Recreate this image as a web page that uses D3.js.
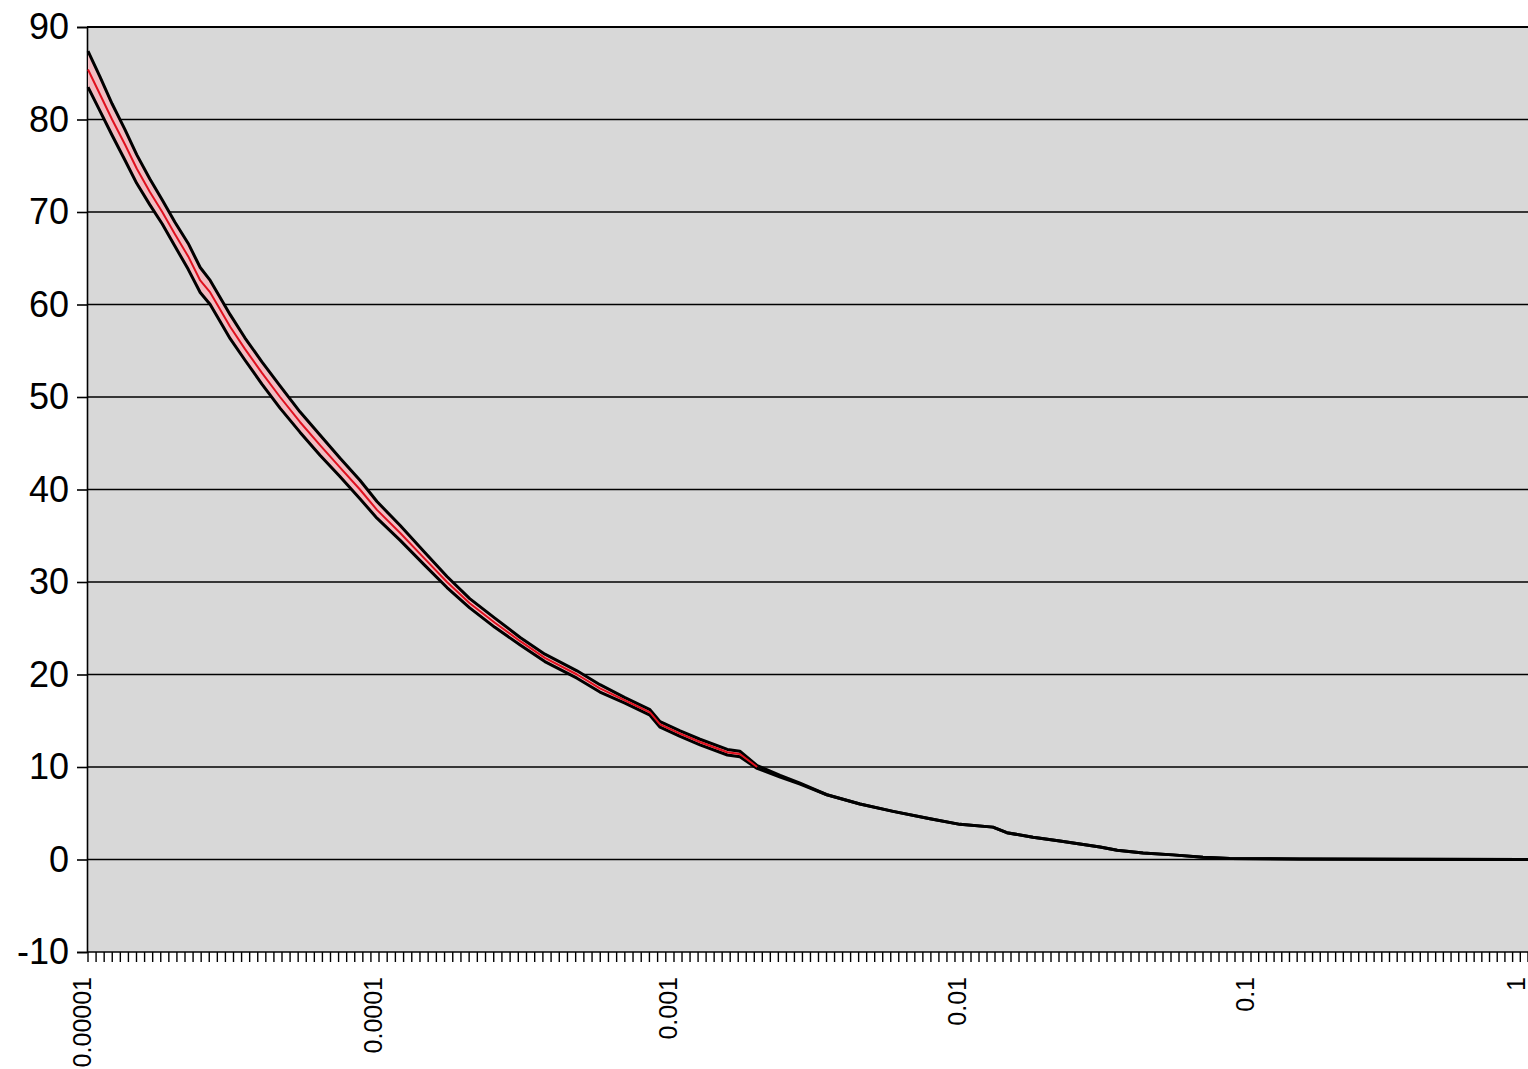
<!DOCTYPE html>
<html>
<head>
<meta charset="utf-8">
<script src="https://cdn.jsdelivr.net/npm/d3@7"></script>
<style>
  html, body { margin: 0; padding: 0; background: #ffffff; }
  svg { display: block; }
  text { font-family: "Liberation Sans", Arial, sans-serif; fill: #000; }
</style>
</head>
<body>
<svg id="chart" width="1528" height="1069"></svg>
<script>
// ---- data ----
const xValues = [1.00e-5, 1.10e-5, 1.21e-5, 1.34e-5, 1.47e-5, 1.63e-5, 1.80e-5, 1.99e-5, 2.21e-5, 2.43e-5,
  2.63e-5, 2.78e-5, 3.08e-5, 3.46e-5, 3.96e-5, 4.57e-5, 5.35e-5, 6.27e-5, 7.34e-5, 8.60e-5,
  9.84e-5, 1.18e-4, 1.43e-4, 1.70e-4, 2.03e-4, 2.47e-4, 3.01e-4, 3.65e-4, 4.69e-4, 5.61e-4,
  6.82e-4, 8.29e-4, 8.97e-4, 1.05e-3, 1.23e-3, 1.53e-3, 1.69e-3, 1.94e-3, 2.33e-3, 2.73e-3,
  3.38e-3, 4.40e-3, 5.73e-3, 7.69e-3, 9.76e-3, 1.27e-2, 1.42e-2, 1.75e-2, 2.17e-2, 2.99e-2,
  3.43e-2, 4.22e-2, 5.36e-2, 6.81e-2, 8.45e-2, 0.150, 0.345, 1];

const meanValues = [85.4, 82.7, 80.0, 77.3, 74.7, 72.2, 70.0, 67.6, 65.2, 62.6,
  61.3, 60.0, 57.6, 55.2, 52.6, 50.0, 47.3, 44.8, 42.4, 40.0,
  37.8, 35.3, 32.5, 30.0, 27.7, 25.6, 23.6, 21.8, 20.0, 18.5,
  17.2, 15.9, 14.6, 13.6, 12.7, 11.6, 11.4, 10.0, 9.0, 8.2,
  7.0, 6.0, 5.2, 4.4, 3.8, 3.5, 2.9, 2.4, 2.0, 1.35,
  1.0, 0.7, 0.5, 0.25, 0.1, 0.05, 0.02, 0.01];

const upperValues = [87.4, 84.6, 81.7, 78.9, 76.2, 73.6, 71.3, 68.9, 66.6, 64.0,
  62.6, 61.3, 58.9, 56.4, 53.8, 51.2, 48.4, 45.9, 43.4, 41.0,
  38.7, 36.1, 33.2, 30.6, 28.2, 26.1, 24.0, 22.2, 20.4, 18.9,
  17.5, 16.2, 14.9, 13.9, 13.0, 11.9, 11.7, 10.15, 9.1, 8.25,
  7.0, 6.0, 5.2, 4.4, 3.8, 3.5, 2.9, 2.4, 2.0, 1.35,
  1.0, 0.7, 0.5, 0.25, 0.1, 0.05, 0.02, 0.01];

const lowerValues = [83.5, 80.9, 78.3, 75.6, 73.1, 70.8, 68.7, 66.3, 63.8, 61.3,
  60.0, 58.7, 56.3, 54.0, 51.4, 48.8, 46.2, 43.7, 41.4, 39.0,
  36.9, 34.5, 31.8, 29.4, 27.2, 25.1, 23.2, 21.4, 19.6, 18.1,
  16.9, 15.6, 14.3, 13.3, 12.4, 11.3, 11.1, 9.85, 8.9, 8.15,
  7.0, 6.0, 5.2, 4.4, 3.8, 3.5, 2.9, 2.4, 2.0, 1.35,
  1.0, 0.7, 0.5, 0.25, 0.1, 0.05, 0.02, 0.01];

const yTicks = [-10, 0, 10, 20, 30, 40, 50, 60, 70, 80, 90];
const xTickValues = [1e-5, 1e-4, 1e-3, 1e-2, 1e-1, 1];
const xTickLabels = ["0.00001", "0.0001", "0.001", "0.01", "0.1", "1"];
const minorTicksPerDecade = 36;

// ---- layout ----
const plotLeft = 87, plotRight = 1528, plotTop = 27, plotBottom = 952;
// category-style axis: decade positions are not perfectly even in the original
const decadePixels = [88, 379, 674, 963, 1251, 1528];
const svg = d3.select("#chart");

const xLin = d3.scaleLinear().domain([-5, -4, -3, -2, -1, 0]).range(decadePixels);
const x = v => xLin(Math.log10(v));
const y = d3.scaleLinear().domain([-10, 90]).range([plotBottom, plotTop]);

svg.append("rect").attr("x", plotLeft).attr("y", plotTop)
  .attr("width", plotRight - plotLeft).attr("height", plotBottom - plotTop)
  .attr("fill", "#d8d8d8");

// gridlines
svg.append("g").selectAll("line").data(yTicks.filter(d => d > -10)).join("line")
  .attr("x1", plotLeft).attr("x2", plotRight)
  .attr("y1", d => y(d)).attr("y2", d => y(d))
  .attr("stroke", "#000").attr("stroke-width", d => d === 90 ? 2 : 1.6);

// y axis
const yAxis = d3.axisLeft(y).tickValues(yTicks).tickSize(10).tickPadding(8)
  .tickFormat(d3.format("d"));
const gy = svg.append("g").attr("transform", `translate(${plotLeft},0)`).call(yAxis);
gy.select(".domain").attr("stroke", "#000").attr("stroke-width", 1.6);
gy.selectAll(".tick line").attr("stroke", "#000").attr("stroke-width", 1.6);
gy.selectAll(".tick text").attr("font-size", 36)
  .attr("font-family", '"Liberation Sans", Arial, sans-serif')
  .attr("fill", "#000")
  .text(d => d < 0 ? "-" + Math.abs(d) : d);

// x axis tick marks (category-style)
const nMinor = 5 * minorTicksPerDecade;
const minorTicks = d3.range(0, nMinor + 1).map(i => Math.pow(10, -5 + i / minorTicksPerDecade));
const gx = svg.append("g");
gx.append("line").attr("x1", plotLeft).attr("x2", plotRight).attr("y1", plotBottom).attr("y2", plotBottom)
  .attr("stroke", "#000").attr("stroke-width", 1.6);
gx.selectAll("line.mt").data(minorTicks).join("line").attr("class", "mt")
  .attr("x1", d => x(d)).attr("x2", d => x(d))
  .attr("y1", plotBottom).attr("y2", plotBottom + 10)
  .attr("stroke", "#000").attr("stroke-width", 1.4);
gx.selectAll("text").data(xTickValues).join("text")
  .attr("transform", d => `translate(${Math.min(x(d) - 6, 1516)},977) rotate(-90)`)
  .attr("text-anchor", "end")
  .attr("dominant-baseline", "central")
  .attr("font-size", 25)
  .text((d, i) => xTickLabels[i]);

// series
const pts = xValues.map((xv, i) => ({ x: xv, m: meanValues[i], u: upperValues[i], l: lowerValues[i] }));

svg.append("path").datum(pts)
  .attr("d", d3.area().x(d => x(d.x)).y0(d => y(d.l)).y1(d => y(d.u)))
  .attr("fill", "#f2bcc2");

const lineGen = key => d3.line().x(d => x(d.x)).y(d => y(d[key]));
svg.append("path").datum(pts).attr("d", lineGen("u"))
  .attr("fill", "none").attr("stroke", "#000").attr("stroke-width", 3).attr("stroke-linejoin", "round");
svg.append("path").datum(pts).attr("d", lineGen("l"))
  .attr("fill", "none").attr("stroke", "#000").attr("stroke-width", 3).attr("stroke-linejoin", "round");
svg.append("path").datum(pts.filter(d => d.m > 9.5)).attr("d", lineGen("m"))
  .attr("fill", "none").attr("stroke", "#e0101e").attr("stroke-width", 2).attr("stroke-linejoin", "round");
</script>
</body>
</html>
